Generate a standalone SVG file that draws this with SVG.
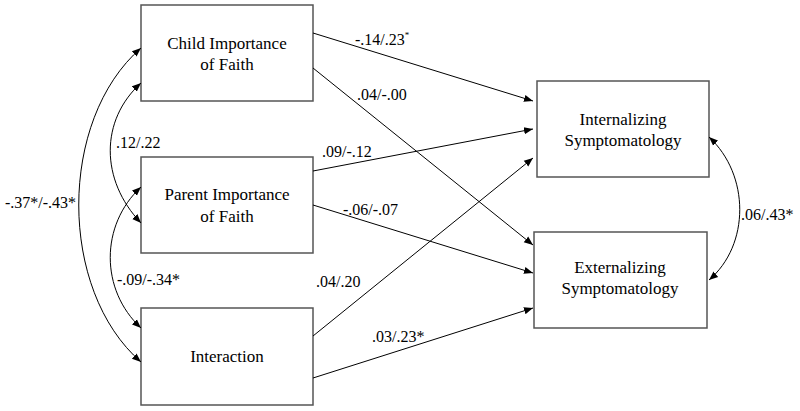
<svg xmlns="http://www.w3.org/2000/svg" width="800" height="411" viewBox="0 0 800 411">
<style>
.box{fill:#fff;stroke:#555;stroke-width:1.5}
.nt{font-size:17px;fill:#000;text-anchor:middle}
.lb{font-size:16px;fill:#000}
.ln{fill:none;stroke:#000;stroke-width:1}
</style>
<defs>
<marker id="ah" viewBox="0 0 10 10" refX="10" refY="5" markerWidth="9" markerHeight="9" markerUnits="userSpaceOnUse" orient="auto-start-reverse">
<path d="M0,1 L10,5 L0,9 z" fill="#000"/>
</marker>
</defs>
<rect width="800" height="411" fill="#fff"/>
<g font-family="Liberation Serif, DejaVu Serif, serif">
<g id="child"><rect class="box" x="141" y="5" width="172" height="96"/><text class="nt" x="227" y="49">Child Importance</text><text class="nt" x="227" y="70">of Faith</text></g>
<g id="parent"><rect class="box" x="141" y="157" width="172" height="96"/><text class="nt" x="227" y="200">Parent Importance</text><text class="nt" x="227" y="222">of Faith</text></g>
<g id="interaction"><rect class="box" x="141" y="308" width="172" height="97"/><text class="nt" x="227" y="362">Interaction</text></g>
<g id="internalizing"><rect class="box" x="537" y="81" width="172" height="96"/><text class="nt" x="623" y="125">Internalizing</text><text class="nt" x="623" y="146">Symptomatology</text></g>
<g id="externalizing"><rect class="box" x="534" y="232" width="173" height="96"/><text class="nt" x="620" y="273">Externalizing</text><text class="nt" x="620" y="294">Symptomatology</text></g>
<g id="connectors">
<line class="ln" x1="313" y1="33" x2="533" y2="101" marker-end="url(#ah)"/>
<line class="ln" x1="313" y1="68" x2="533" y2="245" marker-end="url(#ah)"/>
<line class="ln" x1="313" y1="171" x2="533" y2="129" stroke-width="1.6" marker-end="url(#ah)"/>
<line class="ln" x1="313" y1="205" x2="533" y2="273" marker-end="url(#ah)"/>
<line class="ln" x1="313" y1="336" x2="533" y2="158" marker-end="url(#ah)"/>
<line class="ln" x1="313" y1="378" x2="533" y2="308" marker-end="url(#ah)"/>
<path class="ln" d="M141,48 C58,120 58,290 141,362" marker-start="url(#ah)" marker-end="url(#ah)"/>
<path class="ln" d="M141,83 C100,120 100,180 141,223" marker-start="url(#ah)" marker-end="url(#ah)"/>
<path class="ln" d="M141,187 C100,225 100,290 141,328" marker-start="url(#ah)" marker-end="url(#ah)"/>
<path class="ln" d="M709,137 C750,175 750,245 709,280" marker-start="url(#ah)" marker-end="url(#ah)"/>
</g>
<g id="labels">
<text class="lb" x="355" y="45">-.14/.23<tspan font-size="9" dy="-7">*</tspan></text>
<text class="lb" x="357" y="100">.04/-.00</text>
<text class="lb" x="322" y="157">.09/-.12</text>
<text class="lb" x="343" y="215">-.06/-.07</text>
<text class="lb" x="316" y="287">.04/.20</text>
<text class="lb" x="372" y="342">.03/.23*</text>
<text class="lb" x="116" y="148">.12/.22</text>
<text class="lb" x="117" y="285">-.09/-.34*</text>
<text class="lb" x="5" y="208">-.37*/-.43*</text>
<text class="lb" x="741" y="220">.06/.43*</text>
</g>
</g>
</svg>
